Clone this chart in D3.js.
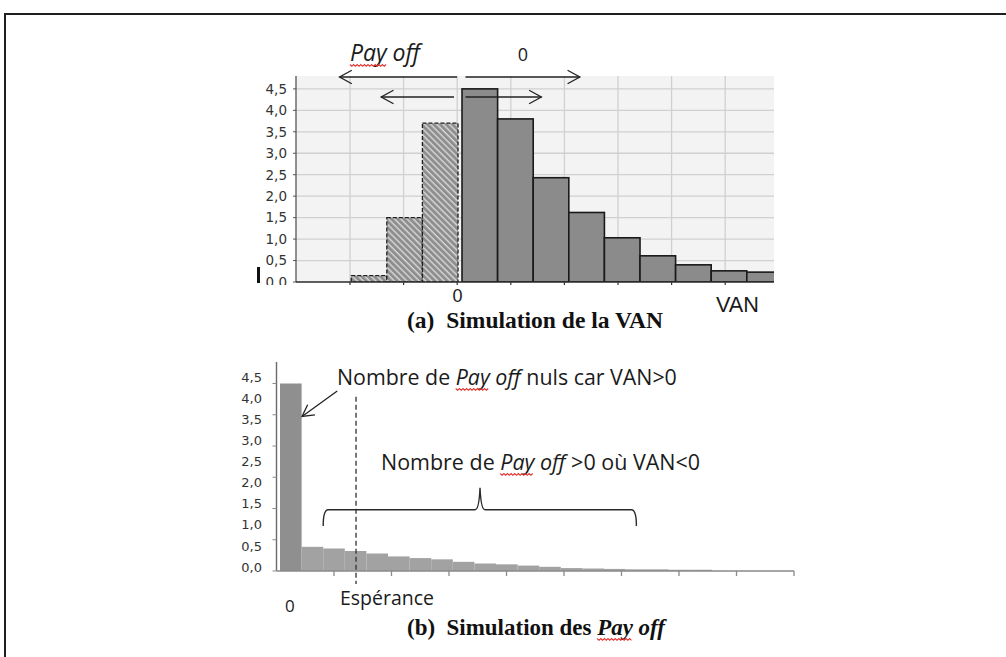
<!DOCTYPE html>
<html>
<head>
<meta charset="utf-8">
<script src="https://cdn.jsdelivr.net/npm/d3@7"></script>
<style>
  html, body { margin: 0; padding: 0; background: #fff; }
  svg { display: block; }
</style>
</head>
<body>
<svg id="fig" width="1006" height="657"></svg>
<script>
// ---------- (a) VAN histogram ----------
const vanNegBins = [-3, -2, -1];
const vanNegFreq = [0.15, 1.5, 3.7];
const vanPosBins = [0, 1, 2, 3, 4, 5, 6, 7, 8];
const vanPosFreq = [4.5, 3.8, 2.43, 1.62, 1.03, 0.61, 0.40, 0.26, 0.23];
const vanTickValues = [0, 0.5, 1, 1.5, 2, 2.5, 3, 3.5, 4, 4.5];
const vanTickLabels = ["0,0", "0,5", "1,0", "1,5", "2,0", "2,5", "3,0", "3,5", "4,0", "4,5"];

// ---------- (b) Pay off histogram ----------
const payBins = [0, 1, 2, 3, 4, 5, 6, 7, 8, 9, 10, 11, 12, 13, 14, 15, 16, 17, 18, 19];
const payFreq = [4.5, 0.58, 0.54, 0.48, 0.42, 0.35, 0.31, 0.28, 0.22, 0.18,
                 0.16, 0.13, 0.10, 0.07, 0.06, 0.05, 0.04, 0.04, 0.03, 0.03];
const payTickValues = [0, 0.5, 1, 1.5, 2, 2.5, 3, 3.5, 4, 4.5];
const payTickLabels = ["0,0", "0,5", "1,0", "1,5", "2,0", "2,5", "3,0", "3,5", "4,0", "4,5"];
const payAxisMarks = [0, 0.75, 1.5, 2.25, 3, 3.75, 4.5];
const payAxisTicks = [1, 2, 3, 4, 5, 6, 7, 8, 9];

const SANS = "'Open Sans', 'Noto Sans', sans-serif";
const ARIAL = "'Liberation Sans', Arial, sans-serif";
const TICKFONT = "'DejaVu Sans', Verdana, sans-serif";
const SERIF = "'Liberation Serif', 'Times New Roman', serif";

const svg = d3.select("#fig");
const defs = svg.append("defs");

// page frame
svg.append("rect")
  .attr("x", 5).attr("y", 14).attr("width", 1100).attr("height", 700)
  .attr("fill", "none").attr("stroke", "#1e1e1e").attr("stroke-width", 2);

// scale the font size of a text node so it spans the given width
function fitWidth(sel, width) {
  const node = sel.node();
  const fs = parseFloat(sel.attr("font-size"));
  const w = node.getComputedTextLength();
  sel.attr("font-size", (fs * width / w).toFixed(2));
  return sel;
}

// red spell-check squiggle under characters [i0, i1) of a text node
function squiggle(g, textSel, i0, i1, baseY) {
  const node = textSel.node();
  const xa = node.getStartPositionOfChar(i0).x;
  const xb = node.getEndPositionOfChar(i1 - 1).x;
  const y = baseY + 3.5;
  let d = `M${xa},${y}`;
  let up = true;
  for (let x = xa + 1.8; x <= xb; x += 1.8) {
    d += ` L${x.toFixed(1)},${(up ? y + 1.8 : y).toFixed(1)}`;
    up = !up;
  }
  g.append("path").attr("d", d).attr("fill", "none")
    .attr("stroke", "#e0302a").attr("stroke-width", 1.1);
}

// mixed-style label: parts = [[text, italic], ...]
function richText(g, x, y, parts, size, family, weight) {
  const t = g.append("text")
    .attr("x", x).attr("y", y)
    .attr("font-family", family)
    .attr("font-size", size)
    .attr("font-weight", weight || "normal")
    .attr("fill", "#1b1b1b");
  parts.forEach(([s, it]) => {
    t.append("tspan").attr("font-style", it ? "italic" : "normal").text(s);
  });
  return t;
}

// open arrowhead polyline ending at (x,y) pointing along angle a
function arrowHead(g, x, y, a, len, spread) {
  const p1 = [x - len * Math.cos(a - spread), y - len * Math.sin(a - spread)];
  const p2 = [x - len * Math.cos(a + spread), y - len * Math.sin(a + spread)];
  g.append("path")
    .attr("d", `M${p1[0]},${p1[1]} L${x},${y} L${p2[0]},${p2[1]}`)
    .attr("fill", "none").attr("stroke", "#222").attr("stroke-width", 1.3);
}

// ================= (a) =================
const A = { left: 296, right: 774, top: 76, bottom: 282 };
const xV = d3.scaleLinear().domain([-4.593, 8.834]).range([A.left, A.right]);
const yV = d3.scaleLinear().domain([0, 4.8]).range([A.bottom, A.top]);
const gridX = d3.scaleLinear().domain([0, 9]).range([296.4, 778.8]);

defs.append("clipPath").attr("id", "clipA")
  .append("rect").attr("x", 0).attr("y", 0).attr("width", A.right).attr("height", 285);
defs.append("clipPath").attr("id", "clipPlotA")
  .append("rect").attr("x", A.left).attr("y", A.top)
  .attr("width", A.right - A.left).attr("height", A.bottom - A.top);

const hatch = defs.append("pattern").attr("id", "hatch")
  .attr("patternUnits", "userSpaceOnUse").attr("width", 4.4).attr("height", 4.4)
  .attr("patternTransform", "rotate(-45)");
hatch.append("rect").attr("width", 4.4).attr("height", 4.4).attr("fill", "#8e8e8e");
hatch.append("line").attr("x1", 1).attr("x2", 1).attr("y1", 0).attr("y2", 4.4)
  .attr("stroke", "#ececec").attr("stroke-width", 1.1);

const gA = svg.append("g").attr("clip-path", "url(#clipA)");

// plot background and grid
gA.append("rect").attr("x", A.left).attr("y", A.top)
  .attr("width", A.right - A.left).attr("height", A.bottom - A.top).attr("fill", "#f3f3f3");
gA.append("g").selectAll("line").data(vanTickValues.slice(1)).join("line")
  .attr("x1", A.left).attr("x2", A.right)
  .attr("y1", d => yV(d)).attr("y2", d => yV(d))
  .attr("stroke", "#d0d0d0").attr("stroke-width", 1.3);
gA.append("g").selectAll("line").data([1, 2, 3, 4, 5, 6, 7, 8]).join("line")
  .attr("x1", d => gridX(d)).attr("x2", d => gridX(d))
  .attr("y1", A.top).attr("y2", A.bottom)
  .attr("stroke", "#d0d0d0").attr("stroke-width", 1.3);

const barsA = gA.append("g").attr("clip-path", "url(#clipPlotA)");
// negative VAN: hatched, dashed outline
barsA.selectAll("rect.neg").data(vanNegBins.map((b, i) => ({ b, v: vanNegFreq[i] })))
  .join("rect").attr("class", "neg")
  .attr("x", d => xV(d.b) - 1.5)
  .attr("width", d => xV(d.b + 1) - xV(d.b))
  .attr("y", d => yV(d.v)).attr("height", d => yV(0) - yV(d.v))
  .attr("fill", "url(#hatch)").attr("stroke", "#1e1e1e")
  .attr("stroke-width", 1.3).attr("stroke-dasharray", "4,2");
// positive VAN: solid grey
barsA.selectAll("rect.pos").data(vanPosBins.map((b, i) => ({ b, v: vanPosFreq[i] })))
  .join("rect").attr("class", "pos")
  .attr("x", d => xV(d.b) + 2.5)
  .attr("width", d => xV(d.b + 1) - xV(d.b))
  .attr("y", d => yV(d.v)).attr("height", d => yV(0) - yV(d.v))
  .attr("fill", "#8b8b8b").attr("stroke", "#1a1a1a").attr("stroke-width", 1.6);

// axes
gA.append("line").attr("x1", A.left).attr("x2", A.left).attr("y1", A.top).attr("y2", A.bottom)
  .attr("stroke", "#555").attr("stroke-width", 1.3);
gA.append("line").attr("x1", A.left).attr("x2", A.right).attr("y1", A.bottom).attr("y2", A.bottom)
  .attr("stroke", "#2a2a2a").attr("stroke-width", 1.6);
gA.append("g").selectAll("line").data([1, 2, 3, 4, 5, 6, 7, 8]).join("line")
  .attr("x1", d => gridX(d)).attr("x2", d => gridX(d))
  .attr("y1", A.bottom).attr("y2", A.bottom + 3)
  .attr("stroke", "#333").attr("stroke-width", 1.2);
gA.append("g").selectAll("line").data(vanTickValues).join("line")
  .attr("x1", A.left - 3).attr("x2", A.left)
  .attr("y1", d => yV(d)).attr("y2", d => yV(d))
  .attr("stroke", "#555").attr("stroke-width", 1);
gA.append("g").selectAll("text").data(vanTickValues).join("text")
  .attr("x", 287).attr("y", d => yV(d)).attr("dy", "0.36em")
  .attr("text-anchor", "end").attr("font-family", TICKFONT)
  .attr("font-size", 13.5).attr("fill", "#333")
  .text((d, i) => vanTickLabels[i]);
gA.append("rect").attr("x", 257).attr("y", 267).attr("width", 3).attr("height", 16).attr("fill", "#111");

// double arrows around VAN = 0
function splitArrow(g, vl, vr, y, gapL, gapR) {
  const xl = xV(vl), xr = xV(vr);
  g.append("line").attr("x1", xl).attr("x2", gapL).attr("y1", y).attr("y2", y)
    .attr("stroke", "#222").attr("stroke-width", 1.3);
  g.append("line").attr("x1", gapR).attr("x2", xr).attr("y1", y).attr("y2", y)
    .attr("stroke", "#222").attr("stroke-width", 1.3);
  arrowHead(g, xl, y, Math.PI, 14, 0.5);
  arrowHead(g, xr, y, 0, 14, 0.5);
}
const gArr = svg.append("g");
splitArrow(gArr, -3.37, 3.38, 77, 457, 465.5);
splitArrow(gArr, -2.2, 2.3, 97, 454, 465.5);

// labels above (a)
const lblPay = richText(svg, 350, 61, [["Pay off", true]], 19, SANS);
fitWidth(lblPay, 70);
squiggle(svg, lblPay, 0, 3, 61);
svg.append("text").attr("x", 523).attr("y", 61).attr("text-anchor", "middle")
  .attr("font-family", SANS).attr("font-size", 18).attr("fill", "#1b1b1b").text("0");

// labels below (a)
svg.append("text").attr("x", xV(0) - 2).attr("y", 302).attr("text-anchor", "middle")
  .attr("font-family", ARIAL).attr("font-size", 18)
  .attr("fill", "#1b1b1b").text("0");
const vanLbl = svg.append("text").attr("x", 716).attr("y", 312)
  .attr("font-family", ARIAL).attr("font-size", 18)
  .attr("fill", "#1b1b1b").text("VAN");
fitWidth(vanLbl, 43);
const capA = svg.append("text").attr("x", 407).attr("y", 328)
  .attr("font-family", SERIF).attr("font-size", 17).attr("font-weight", "bold")
  .attr("fill", "#111").attr("xml:space", "preserve").text("(a)  Simulation de la VAN");
fitWidth(capA, 256);

// ================= (b) =================
const B = { left: 276.5, right: 794, top: 362, bottom: 571 };
const xP = d3.scaleLinear().domain([0, 20]).range([280, 712]);
const yP = d3.scaleLinear().domain([0, 4.5]).range([B.bottom, 383.5]);
const yPLabel = d3.scaleLinear().domain([0, 4.5]).range([567, 377]);
const axisP = d3.scaleLinear().domain([0, 9]).range([B.left, B.right]);

const gB = svg.append("g");
gB.selectAll("rect.pay").data(payBins.map((b, i) => ({ b, v: payFreq[i] })))
  .join("rect").attr("class", "pay")
  .attr("x", d => xP(d.b)).attr("width", d => xP(d.b + 1) - xP(d.b))
  .attr("y", d => yP(d.v)).attr("height", d => yP(0) - yP(d.v))
  .attr("fill", d => d.b === 0 ? "#8f8f8f" : "#a2a2a2");

// axes
gB.append("line").attr("x1", B.left).attr("x2", B.left).attr("y1", B.top).attr("y2", B.bottom)
  .attr("stroke", "#6a6a6a").attr("stroke-width", 1.4);
gB.append("line").attr("x1", B.left).attr("x2", B.right).attr("y1", B.bottom).attr("y2", B.bottom)
  .attr("stroke", "#8a8a8a").attr("stroke-width", 1.6);
gB.append("g").selectAll("line").data(payAxisTicks).join("line")
  .attr("x1", d => axisP(d)).attr("x2", d => axisP(d))
  .attr("y1", B.bottom).attr("y2", B.bottom + 5)
  .attr("stroke", "#8a8a8a").attr("stroke-width", 1.3);
gB.append("g").selectAll("line").data(payAxisMarks).join("line")
  .attr("x1", B.left - 4).attr("x2", B.left)
  .attr("y1", d => yP(d)).attr("y2", d => yP(d))
  .attr("stroke", "#8a8a8a").attr("stroke-width", 1);
gB.append("g").selectAll("text").data(payTickValues).join("text")
  .attr("x", 262).attr("y", d => yPLabel(d)).attr("dy", "0.36em")
  .attr("text-anchor", "end").attr("font-family", TICKFONT)
  .attr("font-size", 13).attr("fill", "#333")
  .text((d, i) => payTickLabels[i]);

// expectation marker
gB.append("line").attr("x1", xP(3.52)).attr("x2", xP(3.52))
  .attr("y1", yP(4.18)).attr("y2", 584)
  .attr("stroke", "#333").attr("stroke-width", 1.3).attr("stroke-dasharray", "5,3");

// arrow to the zero pay-off bar
{
  const x1 = xP(2.65), y1 = yP(4.32), x2 = xP(1.02), y2 = yP(3.71);
  gB.append("line").attr("x1", x1).attr("y1", y1).attr("x2", x2).attr("y2", y2)
    .attr("stroke", "#222").attr("stroke-width", 1.3);
  arrowHead(gB, x2, y2, Math.atan2(y2 - y1, x2 - x1), 13, 0.5);
}

// brace over the positive pay-offs
{
  const xl = xP(2.0), xr = xP(16.5), xm = xP(9.26);
  const yb = yP(1.47), ye = yP(1.08), yt = yP(2.0);
  const r = 5;
  const d = `M${xl},${ye} Q${xl},${yb} ${xl + r},${yb} L${xm - 5},${yb} ` +
            `Q${xm - 1},${yb} ${xm},${yt} Q${xm + 1},${yb} ${xm + 5},${yb} ` +
            `L${xr - r},${yb} Q${xr},${yb} ${xr},${ye}`;
  gB.append("path").attr("d", d).attr("fill", "none")
    .attr("stroke", "#2a2a2a").attr("stroke-width", 1.4);
}

// annotations
const note1 = richText(svg, 337, 385,
  [["Nombre de ", false], ["Pay off", true], [" nuls car VAN>0", false]], 18, SANS);
fitWidth(note1, 340);
squiggle(svg, note1, 10, 13, 385);
const note2 = richText(svg, 381, 470,
  [["Nombre de ", false], ["Pay off", true], [" >0 où VAN<0", false]], 18, SANS);
fitWidth(note2, 319);
squiggle(svg, note2, 10, 13, 470);

svg.append("text").attr("x", 285).attr("y", 612)
  .attr("font-family", SANS).attr("font-size", 17).attr("fill", "#1b1b1b").text("0");
const esp = svg.append("text").attr("x", 340).attr("y", 605)
  .attr("font-family", SANS).attr("font-size", 16).attr("fill", "#1b1b1b").text("Espérance");
fitWidth(esp, 94);

const capB = richText(svg, 407, 635,
  [["(b)  Simulation des ", false], ["Pay off", true]], 18, SERIF, "bold");
capB.attr("xml:space", "preserve").attr("fill", "#111");
fitWidth(capB, 258);
squiggle(svg, capB, 20, 23, 635);
</script>
</body>
</html>
